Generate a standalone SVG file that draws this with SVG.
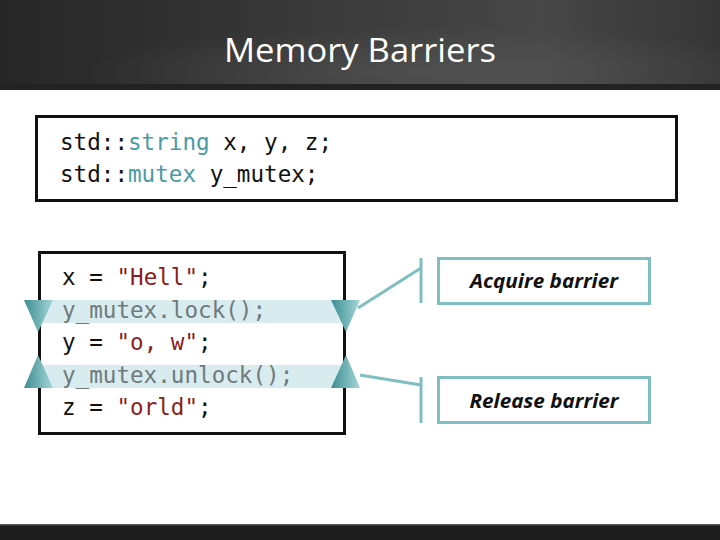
<svg xmlns="http://www.w3.org/2000/svg" width="720" height="540" viewBox="0 0 720 540">
<defs>
<linearGradient id="hdr" x1="0" y1="0" x2="1" y2="0">
<stop offset="0" stop-color="#262626"/>
<stop offset="0.45" stop-color="#3a3a3a"/>
<stop offset="0.75" stop-color="#474747"/>
<stop offset="1" stop-color="#353535"/>
</linearGradient>
<radialGradient id="glow" cx="0.62" cy="0.8" r="0.5">
<stop offset="0" stop-color="#5a5a5a" stop-opacity="0.6"/>
<stop offset="1" stop-color="#5a5a5a" stop-opacity="0"/>
</radialGradient>
<linearGradient id="tri" x1="0" y1="0" x2="1" y2="0">
<stop offset="0" stop-color="#3f8c91"/>
<stop offset="0.5" stop-color="#6fb2b5"/>
<stop offset="1" stop-color="#a5d6d8"/>
</linearGradient>
<style>
.code{font-family:"DejaVu Sans Mono","Liberation Mono",monospace;font-size:22.6px;fill:#111}
.str{fill:#8c1c1c}
.kw{fill:#4a9aa5}
.mx{fill:#6e7a7c}
.box{fill:#fff;stroke:#111;stroke-width:3}
.band{fill:#d8ebee}
.lbl{fill:#fff;stroke:#7fbfc1;stroke-width:3}
.lbltxt{font-family:"Open Sans","Liberation Sans",sans-serif;font-size:19px;font-weight:bold;font-style:italic;fill:#111;text-anchor:middle}
.conn{stroke:#7fbfc1;stroke-width:3;fill:none}
</style>
</defs>
<rect width="720" height="540" fill="#fff"/>
<g id="header">
<rect x="0" y="0" width="720" height="90" fill="url(#hdr)"/>
<rect x="0" y="0" width="720" height="90" fill="url(#glow)"/>
<rect x="0" y="84" width="720" height="6" fill="#222"/>
<text x="360" y="62" font-family="Open Sans, Liberation Sans, sans-serif" font-size="33" fill="#fff" text-anchor="middle" textLength="272" lengthAdjust="spacingAndGlyphs">Memory Barriers</text>
</g>
<g id="footer">
<rect x="0" y="524" width="720" height="16" fill="#1c1c1c"/>
<rect x="0" y="524" width="720" height="1.5" fill="#555"/>
</g>
<g id="decl">
<rect class="box" x="36.5" y="116.5" width="640" height="84"/>
<text class="code" x="60" y="150">std::<tspan class="kw">string</tspan> x, y, z;</text>
<text class="code" x="60" y="182">std::<tspan class="kw">mutex</tspan> y_mutex;</text>
</g>
<g id="code">
<rect class="box" x="39.5" y="252.5" width="305" height="181"/>
<rect class="band" x="41" y="300" width="302" height="23"/>
<rect class="band" x="41" y="365" width="302" height="23"/>
<text class="code" x="62" y="285">x = <tspan class="str">"Hell"</tspan>;</text>
<text class="code mx" x="62" y="318">y_mutex.lock();</text>
<text class="code" x="62" y="350">y = <tspan class="str">"o, w"</tspan>;</text>
<text class="code mx" x="62" y="383">y_mutex.unlock();</text>
<text class="code" x="62" y="415">z = <tspan class="str">"orld"</tspan>;</text>
</g>
<g id="barrier-markers">
<polygon points="24,300 53,300 38,332" fill="url(#tri)"/>
<polygon points="331,300 360,300 346,332" fill="url(#tri)"/>
<polygon points="38,355 24,388 53,388" fill="url(#tri)"/>
<polygon points="346,355 331,388 360,388" fill="url(#tri)"/>
</g>
<g id="connectors">
<line class="conn" x1="358" y1="308" x2="421" y2="268"/>
<line class="conn" x1="421" y1="258" x2="421" y2="303"/>
<line class="conn" x1="360" y1="375" x2="421" y2="385"/>
<line class="conn" x1="421" y1="377" x2="421" y2="423"/>
</g>
<g id="acquire">
<rect class="lbl" x="438.5" y="258.5" width="211" height="45"/>
<text class="lbltxt" x="544" y="288" textLength="148" lengthAdjust="spacingAndGlyphs">Acquire barrier</text>
</g>
<g id="release">
<rect class="lbl" x="438.5" y="377.5" width="211" height="45"/>
<text class="lbltxt" x="544" y="408" textLength="149" lengthAdjust="spacingAndGlyphs">Release barrier</text>
</g>
</svg>
